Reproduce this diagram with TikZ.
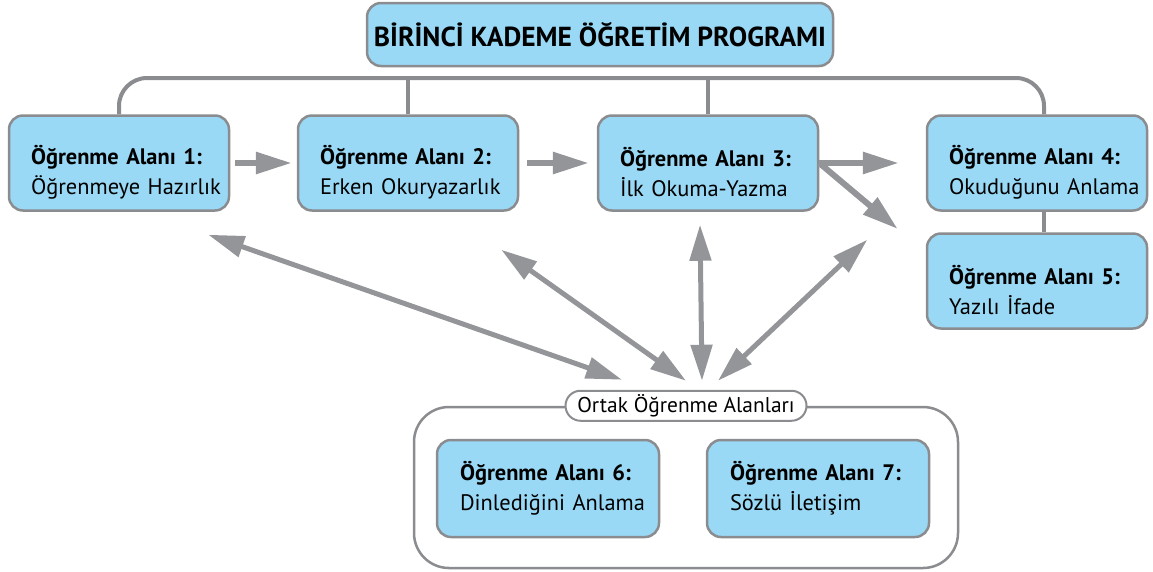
\documentclass[tikz,border=0pt]{standalone}
\usepackage{fontspec}
\setmainfont{PT Sans}
\usetikzlibrary{arrows.meta, positioning, calc}
\definecolor{areablue}{RGB}{153,217,245}
\definecolor{framegray}{RGB}{138,140,143}
\definecolor{arrowgray}{RGB}{147,149,152}
\newcommand{\areatext}[2]{\textbf{Öğrenme Alanı #1:}\\\mbox{#2}}

\begin{document}
\begin{tikzpicture}[x=1pt, y=-1pt,
    area/.style={rectangle, rounded corners=14pt, draw=framegray, line width=2.5pt, fill=areablue,
        minimum width=220pt, minimum height=95pt, text width=176pt, inner xsep=22pt,
        align=left, font=\fontsize{22.4}{30}\selectfont},
    lowtext/.style={execute at begin node={\rule{0pt}{38pt}}},
    titlebox/.style={rectangle, rounded corners=14pt, draw=framegray, line width=2.5pt, fill=areablue,
        minimum width=466pt, minimum height=63pt, font=\fontsize{27.5}{30}\selectfont\bfseries},
    group/.style={rectangle, rounded corners=35pt, draw=framegray, line width=2.5pt,
        minimum width=544pt, minimum height=161pt},
    pill/.style={rectangle, rounded corners=15pt, draw=framegray, line width=2pt, fill=white,
        minimum width=241pt, minimum height=30pt, font=\fontsize{21.4}{24}\selectfont},
    bracket/.style={draw=framegray, line width=4pt},
    flow/.style={draw=arrowgray, line width=6pt, -{Triangle[length=36pt, width=21pt]}},
    link/.style={draw=arrowgray, line width=5pt,
        {Triangle[length=36pt, width=21pt]}-{Triangle[length=36pt, width=21pt]}}
]
    \useasboundingbox (0,0) rectangle (1153,571);

    \node[titlebox] (title) at (600,34.5) {BİRİNCİ KADEME ÖĞRETİM PROGRAMI};
    \node[area, lowtext] (b1) at (119,163) {\areatext{1}{Öğrenmeye Hazırlık}};
    \node[area, lowtext, right=66.5pt of b1] (b2) {\areatext{2}{Erken Okuryazarlık}};
    \node[area, lowtext, right=77.5pt of b2] (b3) {\areatext{3}{İlk Okuma-Yazma}};
    \node[area, lowtext, right=106.5pt of b3] (b4) {\areatext{4}{Okuduğunu Anlama}};
    \node[area, lowtext, below=20.5pt of b4] (b5) {\areatext{5}{Yazılı İfade}};

    % common areas
    \node[group] (common) at (686,487.5) {};
    \node[pill] (commonlabel) at (common.north) {Ortak Öğrenme Alanları};
    \node[area, minimum width=222pt, minimum height=97pt] (b6) at ($(common.center)+(-138,1)$)
        {\areatext{6}{Dinlediğini Anlama}};
    \node[area, minimum width=222pt, minimum height=97pt] (b7) at ($(common.center)+(132,1)$)
        {\areatext{7}{Sözlü İletişim}};

    % program bracket
    \coordinate (bar) at (0,78);
    \draw[bracket, rounded corners=28pt] (b1.north) -- (b1.north |- bar)
        -- ([xshift=7pt]b4.north |- bar) -- ([xshift=7pt]b4.north);
    \draw[bracket] (b2.north) -- (b2.north |- bar);
    \draw[bracket] (b3.north) -- (b3.north |- bar);
    \draw[bracket] ([xshift=7pt]b4.south) -- ([xshift=7pt]b5.north);

    % sequence
    \coordinate (gap) at ($(b4.west)+(-28,66)$);
    \draw[flow, shorten <=5pt, shorten >=5pt] (b1) -- (b2);
    \draw[flow, shorten <=8pt, shorten >=8pt] (b2) -- (b3);
    \draw[flow] (b3.east) -- ([xshift=-27pt]b4.west);
    \draw[flow] (b3.east) -- (gap);

    % links to common areas
    \draw[link] ($(b1.south east)+(-22,23)$) -- ($(commonlabel.north)+(-64,-10)$);
    \draw[link] ($(b2.south east)+(-18,38)$) -- ($(commonlabel.north)+(0,-9)$);
    \draw[link] ($(b3.south)+(-8,13)$) -- ($(commonlabel.north)+(16,-9)$);
    \draw[link] ($(b3.south east)+(48,28)$) -- ($(commonlabel.north)+(32,-9)$);
\end{tikzpicture}
\end{document}
